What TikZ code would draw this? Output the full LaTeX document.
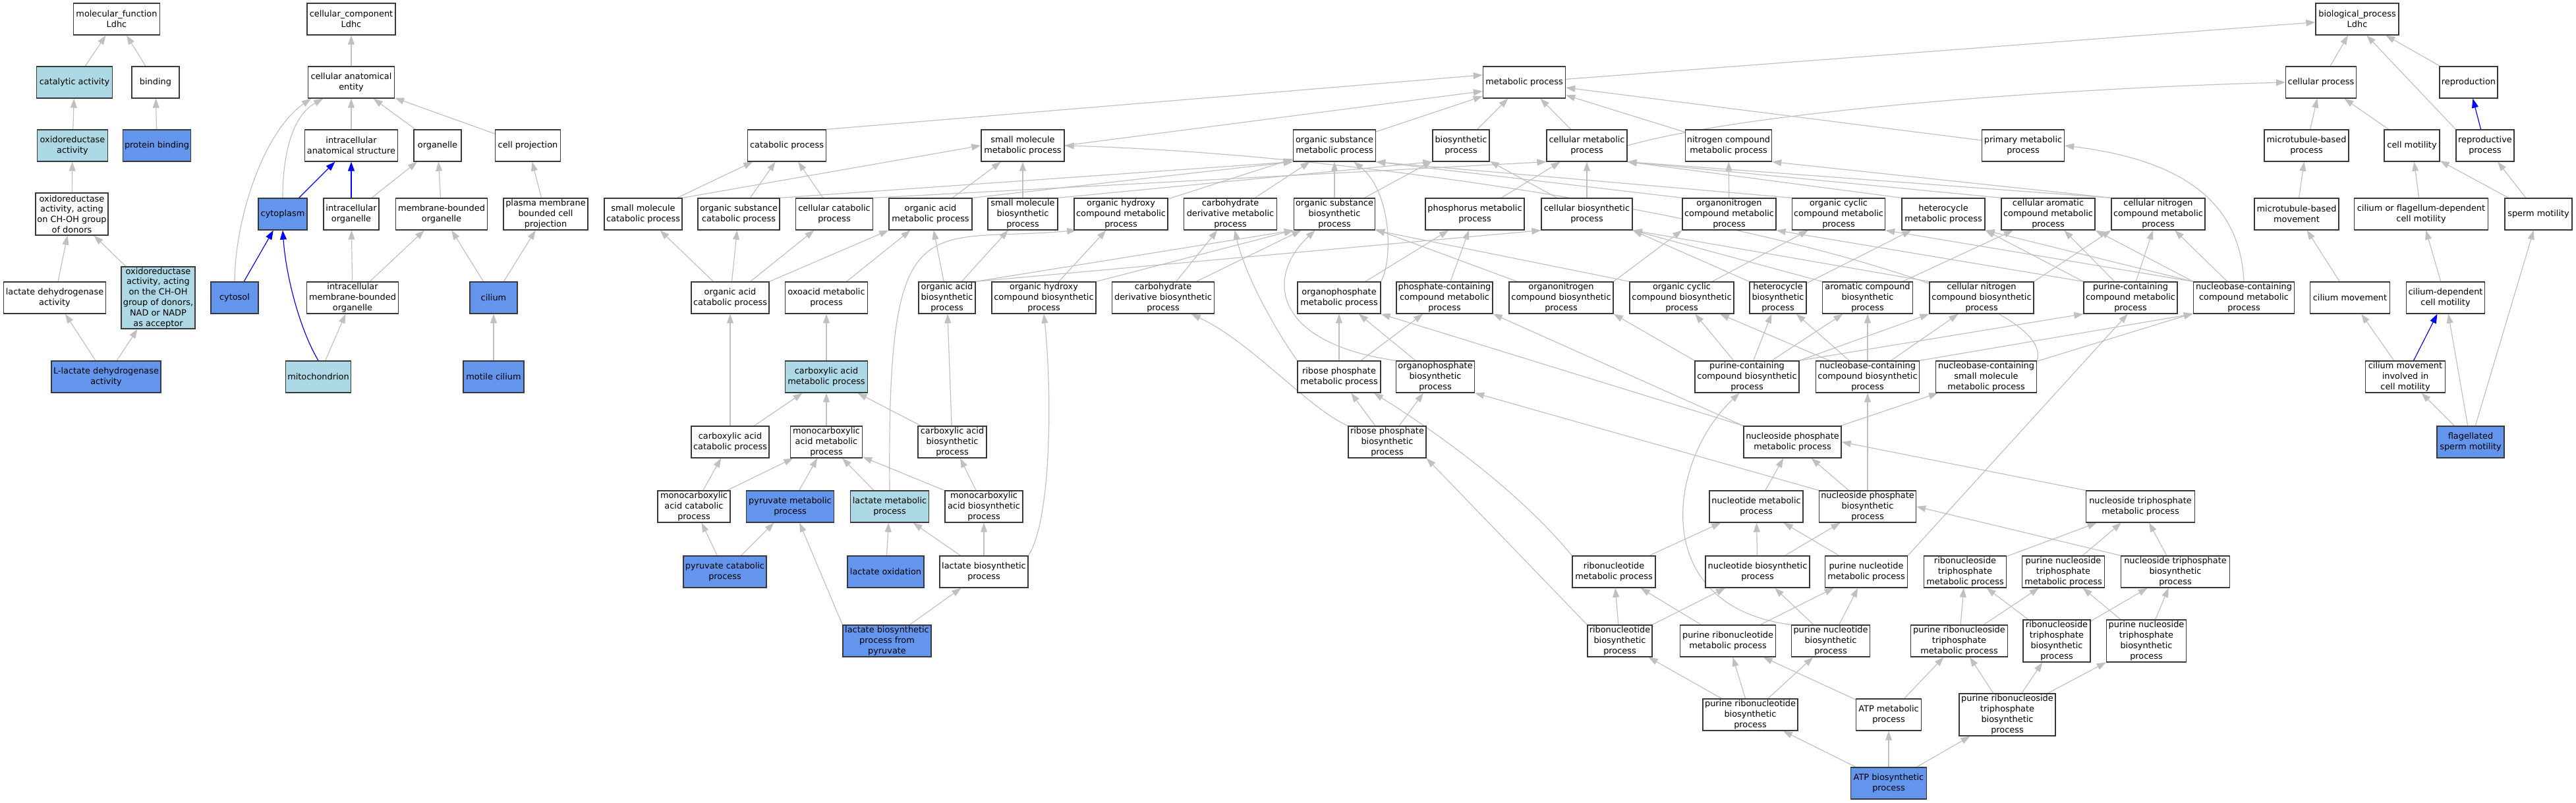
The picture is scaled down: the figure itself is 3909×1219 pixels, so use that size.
\documentclass[tikz,border=0pt]{standalone}
\usepackage{fontspec}
\setmainfont{DejaVu Sans}
\usepackage{xcolor}
\usepackage{tikz}
\usetikzlibrary{arrows.meta, backgrounds}
\definecolor{edgegray}{RGB}{192, 192, 192}
\definecolor{termline}{RGB}{56, 56, 56}
\definecolor{directblue}{RGB}{100, 149, 237}
\definecolor{lightterm}{RGB}{173, 216, 230}
\definecolor{partblue}{RGB}{0, 0, 255}
\newcommand{\gofont}{\fontsize{11}{13.5}\selectfont}
\tikzstyle{term} = [rectangle, draw=termline, line width=1.1pt, fill=white, align=center, inner sep=1pt, minimum height=1.44cm, font=\gofont]
\tikzstyle{termlight} = [term, fill=lightterm]
\tikzstyle{termdirect} = [term, fill=directblue]
\tikzstyle{isa} = [line width=1pt, draw=edgegray, -{Triangle[length=12pt, width=8.5pt]}]
\tikzstyle{partof} = [isa, draw=partblue]
\tikzset{bx/.style={minimum width=#1*0.3mm}, tall/.style={minimum height=#1*0.3mm}}

\begin{document}
\begin{tikzpicture}[x=0.3mm, y=-0.3mm]
\useasboundingbox (0,0) rectangle (3909,1219);

% Molecular function
\node[term, bx=131] (mf) at (177,29) {molecular\_function\\Ldhc};
\node[termlight, bx=115] (catact) at (113,125) {catalytic activity};
\node[term, bx=72] (binding) at (236,125) {binding};
\node[termlight, bx=107] (oxred) at (110,221) {oxidoreductase\\activity};
\node[termdirect, bx=103] (protbind) at (238,221) {protein binding};
\node[term, bx=110, tall=64] (oxredch) at (109,325) {oxidoreductase\\activity, acting\\on CH-OH group\\of donors};
\node[term, bx=155] (ldhact) at (83,452) {lactate dehydrogenase\\activity};
\node[termlight, bx=112, tall=93] (oxrednad) at (240,452) {oxidoreductase\\activity, acting\\on the CH-OH\\group of donors,\\NAD or NADP\\as acceptor};
\node[termdirect, bx=166] (lldh) at (161,572) {L-lactate dehydrogenase\\activity};

% Cellular component
\node[term, bx=134] (cc) at (533,29) {cellular\_component\\Ldhc};
\node[term, bx=131] (cae) at (533,125) {cellular anatomical\\entity};
\node[term, bx=141] (ias) at (533,221) {intracellular\\anatomical structure};
\node[term, bx=72] (organelle) at (664,221) {organelle};
\node[term, bx=99] (cellproj) at (801,221) {cell projection};
\node[termdirect, bx=74] (cytoplasm) at (429,325) {cytoplasm};
\node[term, bx=84] (icorg) at (533,325) {intracellular\\organelle};
\node[term, bx=139] (mborg) at (670,325) {membrane-bounded\\organelle};
\node[term, bx=128] (pmcellproj) at (828,325) {plasma membrane\\bounded cell\\projection};
\node[termdirect, bx=72] (cytosol) at (356,452) {cytosol};
\node[term, bx=139] (imborg) at (535,452) {intracellular\\membrane-bounded\\organelle};
\node[termdirect, bx=72] (cilium) at (749,452) {cilium};
\node[termlight, bx=99] (mito) at (483,572) {mitochondrion};
\node[termdirect, bx=92] (motcil) at (749,572) {motile cilium};

% Biological process
\node[term, bx=126] (bp) at (3577,29) {biological\_process\\Ldhc};
\node[term, bx=107] (cellproc) at (3522,125) {cellular process};
\node[term, bx=88] (repro) at (3746,125) {reproduction};
\node[term, bx=128] (mtbp) at (3500,221) {microtubule-based\\process};
\node[term, bx=84] (cellmot) at (3660,221) {cell motility};
\node[term, bx=88] (reproproc) at (3771,221) {reproductive\\process};
\node[term, bx=128] (mtbm) at (3485,325) {microtubule-based\\movement};
\node[term, bx=203] (cfdcm) at (3674,325) {cilium or flagellum-dependent\\cell motility};
\node[term, bx=102] (spermmot) at (3852,325) {sperm motility};
\node[term, bx=121] (cilmov) at (3566,452) {cilium movement};
\node[term, bx=119] (cdcm) at (3711,452) {cilium-dependent\\cell motility};
\node[term, bx=121] (cmicm) at (3650,572) {cilium movement\\involved in\\cell motility};
\node[termdirect, bx=102] (flagsperm) at (3749,671) {flagellated\\sperm motility};

% Metabolic process, rank by rank
\node[term, bx=125] (metab) at (2313,125) {metabolic process};

\node[term, bx=119] (catab) at (1194,221) {catabolic process};
\node[term, bx=126] (smmetab) at (1552,221) {small molecule\\metabolic process};
\node[term, bx=125] (osmetab) at (2025,221) {organic substance\\metabolic process};
\node[term, bx=86] (biosyn) at (2217,221) {biosynthetic\\process};
\node[term, bx=122] (cellmetab) at (2408,221) {cellular metabolic\\process};
\node[term, bx=131] (nmetab) at (2623,221) {nitrogen compound\\metabolic process};
\node[term, bx=125] (primetab) at (3070,221) {primary metabolic\\process};

\node[term, bx=118] (smcatab) at (976,325) {small molecule\\catabolic process};
\node[term, bx=124] (oscatab) at (1121,325) {organic substance\\catabolic process};
\node[term, bx=117] (cellcatab) at (1266,325) {cellular catabolic\\process};
\node[term, bx=126] (oametab) at (1412,325) {organic acid\\metabolic process};
\node[term, bx=106] (smbiosyn) at (1552,325) {small molecule\\biosynthetic\\process};
\node[term, bx=142] (ohcmetab) at (1701,325) {organic hydroxy\\compound metabolic\\process};
\node[term, bx=141] (cdmetab) at (1867,325) {carbohydrate\\derivative metabolic\\process};
\node[term, bx=123] (osbiosyn) at (2025,325) {organic substance\\biosynthetic\\process};
\node[term, bx=150] (phosmetab) at (2238,325) {phosphorus metabolic\\process};
\node[term, bx=138] (cellbiosyn) at (2408,325) {cellular biosynthetic\\process};
\node[term, bx=142] (onmetab) at (2624,325) {organonitrogen\\compound metabolic\\process};
\node[term, bx=141] (occmetab) at (2790,325) {organic cyclic\\compound metabolic\\process};
\node[term, bx=126] (hetmetab) at (2949,325) {heterocycle\\metabolic process};
\node[term, bx=142] (camet) at (3108,325) {cellular aromatic\\compound metabolic\\process};
\node[term, bx=142] (cnmetab) at (3275,325) {cellular nitrogen\\compound metabolic\\process};

\node[term, bx=118] (oacatab) at (1108,452) {organic acid\\catabolic process};
\node[term, bx=125] (oxoacid) at (1254,452) {oxoacid metabolic\\process};
\node[term, bx=86] (oabiosyn) at (1437,452) {organic acid\\biosynthetic\\process};
\node[term, bx=158] (ohcbiosyn) at (1584,452) {organic hydroxy\\compound biosynthetic\\process};
\node[term, bx=155] (cdbiosyn) at (1765,452) {carbohydrate\\derivative biosynthetic\\process};
\node[term, bx=126] (opmetab) at (2032,452) {organophosphate\\metabolic process};
\node[term, bx=146] (pcmetab) at (2192,452) {phosphate-containing\\compound metabolic\\process};
\node[term, bx=158] (onbiosyn) at (2369,452) {organonitrogen\\compound biosynthetic\\process};
\node[term, bx=158] (occbiosyn) at (2552,452) {organic cyclic\\compound biosynthetic\\process};
\node[term, bx=86] (hetbiosyn) at (2698,452) {heterocycle\\biosynthetic\\process};
\node[term, bx=137] (acbiosyn) at (2834,452) {aromatic compound\\biosynthetic\\process};
\node[term, bx=158] (cnbiosyn) at (3007,452) {cellular nitrogen\\compound biosynthetic\\process};
\node[term, bx=142] (pcompmetab) at (3233,452) {purine-containing\\compound metabolic\\process};
\node[term, bx=153] (nbcmetab) at (3405,452) {nucleobase-containing\\compound metabolic\\process};

\node[termlight, bx=125] (cametab) at (1254,572) {carboxylic acid\\metabolic process};
\node[term, bx=126] (rpmetab) at (2032,572) {ribose phosphate\\metabolic process};
\node[term, bx=119] (opbiosyn) at (2178,572) {organophosphate\\biosynthetic\\process};
\node[term, bx=158] (pcbiosyn) at (2651,572) {purine-containing\\compound biosynthetic\\process};
\node[term, bx=157] (nbcbiosyn) at (2834,572) {nucleobase-containing\\compound biosynthetic\\process};
\node[term, bx=153] (nbsmmetab) at (3014,572) {nucleobase-containing\\small molecule\\metabolic process};

\node[term, bx=118] (cacatab) at (1108,671) {carboxylic acid\\catabolic process};
\node[term, bx=109] (mcametab) at (1254,671) {monocarboxylic\\acid metabolic\\process};
\node[term, bx=104] (cabiosyn) at (1445,671) {carboxylic acid\\biosynthetic\\process};
\node[term, bx=118] (rpbiosyn) at (2105,671) {ribose phosphate\\biosynthetic\\process};
\node[term, bx=148] (npmetab) at (2720,671) {nucleoside phosphate\\metabolic process};

\node[term, bx=110] (mcacatab) at (1053,769) {monocarboxylic\\acid catabolic\\process};
\node[termdirect, bx=133] (pyrmetab) at (1199,769) {pyruvate metabolic\\process};
\node[termlight, bx=119] (lacmetab) at (1350,769) {lactate metabolic\\process};
\node[term, bx=118] (mcabiosyn) at (1493,769) {monocarboxylic\\acid biosynthetic\\process};
\node[term, bx=142] (ntmetab) at (2665,769) {nucleotide metabolic\\process};
\node[term, bx=147] (npbiosyn) at (2834,769) {nucleoside phosphate\\biosynthetic\\process};
\node[term, bx=165] (ntpmetab) at (3248,769) {nucleoside triphosphate\\metabolic process};

\node[termdirect, bx=126] (pyrcatab) at (1100,868) {pyruvate catabolic\\process};
\node[termdirect, bx=116] (lacox) at (1344,868) {lactate oxidation};
\node[term, bx=134] (lacbiosyn) at (1493,868) {lactate biosynthetic\\process};
\node[term, bx=126] (rnmetab) at (2449,868) {ribonucleotide\\metabolic process};
\node[term, bx=158] (ntbiosyn) at (2667,868) {nucleotide biosynthetic\\process};
\node[term, bx=125] (pnmetab) at (2832,868) {purine nucleotide\\metabolic process};
\node[term, bx=125] (rntpmetab) at (2982,868) {ribonucleoside\\triphosphate\\metabolic process};
\node[term, bx=125] (pntpmetab) at (3131,868) {purine nucleoside\\triphosphate\\metabolic process};
\node[term, bx=165] (ntpbiosyn) at (3301,868) {nucleoside triphosphate\\biosynthetic\\process};

\node[termdirect, bx=134] (lbfp) at (1346,973) {lactate biosynthetic\\process from\\pyruvate};
\node[term, bx=98] (rnbiosyn) at (2458,973) {ribonucleotide\\biosynthetic\\process};
\node[term, bx=145] (prnmetab) at (2622,973) {purine ribonucleotide\\metabolic process};
\node[term, bx=119] (pnbiosyn) at (2778,973) {purine nucleotide\\biosynthetic\\process};
\node[term, bx=147] (prntpmetab) at (2973,973) {purine ribonucleoside\\triphosphate\\metabolic process};
\node[term, bx=102, tall=64] (rntpbiosyn) at (3121,973) {ribonucleoside\\triphosphate\\biosynthetic\\process};
\node[term, bx=121, tall=64] (pntpbiosyn) at (3257,973) {purine nucleoside\\triphosphate\\biosynthetic\\process};

\node[term, bx=144] (prnbiosyn) at (2656,1085) {purine ribonucleotide\\biosynthetic\\process};
\node[term, bx=99] (atpmetab) at (2866,1085) {ATP metabolic\\process};
\node[term, bx=146, tall=64] (prntpbiosyn) at (3046,1085) {purine ribonucleoside\\triphosphate\\biosynthetic\\process};

\node[termdirect, bx=115] (atpbiosyn) at (2866,1189) {ATP biosynthetic\\process};

% Edges (child to parent)
\begin{scope}[on background layer]
\fill[white] (0,0) rectangle (3909,1219);

\draw[isa] (catact) -- (mf);
\draw[isa] (binding) -- (mf);
\draw[isa] (oxred) -- (catact);
\draw[isa] (protbind) -- (binding);
\draw[isa] (oxredch) -- (oxred);
\draw[isa] (ldhact) -- (oxredch);
\draw[isa] (oxrednad) -- (oxredch);
\draw[isa] (lldh) -- (ldhact);
\draw[isa] (lldh) -- (oxrednad);

\draw[isa] (cae) -- (cc);
\draw[isa] (ias) -- (cae);
\draw[isa] (organelle) -- (cae);
\draw[isa] (cellproj) -- (cae);
\draw[isa] (cytoplasm.north) .. controls (429,230) and (445,175) .. (cae.-150);
\draw[isa] (cytosol.north) .. controls (357,330) and (400,200) .. (cae.-158);
\draw[partof] (cytoplasm) -- (ias);
\draw[partof] (icorg) -- (ias);
\draw[isa] (icorg) -- (organelle);
\draw[isa] (mborg) -- (organelle);
\draw[isa] (pmcellproj) -- (cellproj);
\draw[partof] (cytosol) -- (cytoplasm);
\draw[partof] (mito.north) .. controls (455,500) and (434,420) .. (cytoplasm.south);
\draw[isa] (imborg) -- (icorg);
\draw[isa] (imborg) -- (mborg);
\draw[isa] (mito) -- (imborg);
\draw[isa] (cilium) -- (mborg);
\draw[isa] (cilium) -- (pmcellproj);
\draw[isa] (motcil) -- (cilium);

\draw[isa] (metab) -- (bp);
\draw[isa] (cellproc) -- (bp);
\draw[isa] (repro) -- (bp);
\draw[isa] (reproproc.north west) -- (bp.-60);
\draw[partof] (reproproc) -- (repro);
\draw[isa] (mtbp) -- (cellproc);
\draw[isa] (cellmot) -- (cellproc);
\draw[isa] (cellmetab.east) .. controls (2650,170) and (3100,135) .. (cellproc.west);
\draw[isa] (mtbm) -- (mtbp);
\draw[isa] (cfdcm) -- (cellmot);
\draw[isa] (spermmot) -- (cellmot);
\draw[isa] (spermmot) -- (reproproc);
\draw[isa] (cilmov) -- (mtbm);
\draw[isa] (cdcm) -- (cfdcm);
\draw[isa] (cmicm) -- (cilmov);
\draw[partof] (cmicm) -- (cdcm);
\draw[isa] (flagsperm) -- (cmicm);
\draw[isa] (flagsperm) -- (cdcm);
\draw[isa] (flagsperm) -- (spermmot);

\draw[isa] (catab.north east) -- (metab.170);
\draw[isa] (smmetab.east) -- (metab.192);
\draw[isa] (osmetab) -- (metab);
\draw[isa] (biosyn) -- (metab);
\draw[isa] (cellmetab) -- (metab);
\draw[isa] (nmetab) -- (metab);
\draw[isa] (primetab) -- (metab);

\draw[isa] (smcatab) -- (catab);
\draw[isa] (smcatab.north east) -- (smmetab.west);
\draw[isa] (oscatab) -- (catab);
\draw[isa] (oscatab.north east) -- (osmetab.south west);
\draw[isa] (cellcatab) -- (catab);
\draw[isa] (cellcatab.north east) -- (cellmetab.south west);
\draw[isa] (oametab) -- (smmetab);
\draw[isa] (oametab.north east) -- (osmetab.south west);
\draw[isa] (smbiosyn) -- (smmetab);
\draw[isa] (smbiosyn.north east) -- (biosyn.south west);
\draw[isa] (ohcmetab) -- (osmetab);
\draw[isa] (cdmetab) -- (osmetab);
\draw[isa] (osbiosyn) -- (osmetab);
\draw[isa] (osbiosyn) -- (biosyn);
\draw[isa] (phosmetab) -- (cellmetab);
\draw[isa] (cellbiosyn) -- (cellmetab);
\draw[isa] (cellbiosyn) -- (biosyn);
\draw[isa] (onmetab) -- (nmetab);
\draw[isa] (onmetab.north west) -- (osmetab.south east);
\draw[isa] (occmetab.north west) -- (osmetab.south east);
\draw[isa] (hetmetab.north west) -- (cellmetab.south east);
\draw[isa] (camet.north west) -- (cellmetab.south east);
\draw[isa] (cnmetab.north west) -- (cellmetab.south east);
\draw[isa] (cnmetab.north west) -- (nmetab.south east);

\draw[isa] (oacatab) -- (smcatab);
\draw[isa] (oacatab) -- (oscatab);
\draw[isa] (oacatab) -- (cellcatab);
\draw[isa] (oacatab.north east) -- (oametab.south west);
\draw[isa] (oxoacid) -- (oametab);
\draw[isa] (oabiosyn) -- (oametab);
\draw[isa] (oabiosyn) -- (smbiosyn);
\draw[isa] (oabiosyn.north east) -- (osbiosyn.south west);
\draw[isa] (oabiosyn.north east) -- (cellbiosyn.south west);
\draw[isa] (ohcbiosyn) -- (ohcmetab);
\draw[isa] (ohcbiosyn.north east) -- (osbiosyn.south west);
\draw[isa] (cdbiosyn) -- (cdmetab);
\draw[isa] (cdbiosyn) -- (osbiosyn);
\draw[isa] (opmetab) -- (phosmetab);
\draw[isa] (opmetab.north east) .. controls (2115,390) and (2110,290) .. (osmetab.-40);
\draw[isa] (pcmetab) -- (phosmetab);
\draw[isa] (onbiosyn.north east) -- (onmetab.south west);
\draw[isa] (onbiosyn) -- (osbiosyn);
\draw[isa] (occbiosyn) -- (occmetab);
\draw[isa] (occbiosyn.north west) -- (osbiosyn.south east);
\draw[isa] (hetbiosyn) -- (hetmetab);
\draw[isa] (hetbiosyn.north west) -- (cellbiosyn.south east);
\draw[isa] (acbiosyn) -- (camet);
\draw[isa] (acbiosyn.north west) -- (cellbiosyn.south east);
\draw[isa] (cnbiosyn.north east) -- (cnmetab.south west);
\draw[isa] (cnbiosyn.north west) -- (cellbiosyn.south east);
\draw[isa] (pcompmetab) -- (cnmetab);
\draw[isa] (pcompmetab.north west) -- (hetmetab.south east);
\draw[isa] (pcompmetab) -- (camet);
\draw[isa] (pcompmetab.north west) -- (onmetab.south east);
\draw[isa] (nbcmetab) -- (cnmetab);
\draw[isa] (nbcmetab.north west) -- (camet.south east);
\draw[isa] (nbcmetab.north west) -- (hetmetab.south east);
\draw[isa] (nbcmetab.north west) -- (occmetab.south east);
\draw[isa] (nbcmetab.north) .. controls (3400,320) and (3330,245) .. (primetab.east);

\draw[isa] (cametab) -- (oxoacid);
\draw[isa] (rpmetab) -- (opmetab);
\draw[isa] (rpmetab) -- (pcmetab);
\draw[isa] (rpmetab.north west) .. controls (1935,500) and (1890,420) .. (cdmetab.-75);
\draw[isa] (opbiosyn) -- (opmetab);
\draw[isa] (opbiosyn.north west) .. controls (1930,520) and (1920,420) .. (osbiosyn.-140);
\draw[isa] (pcbiosyn) -- (occbiosyn);
\draw[isa] (pcbiosyn) -- (hetbiosyn);
\draw[isa] (pcbiosyn) -- (acbiosyn);
\draw[isa] (pcbiosyn.north east) -- (cnbiosyn.south west);
\draw[isa] (pcbiosyn.north east) -- (pcompmetab.south west);
\draw[isa] (pcbiosyn.north west) -- (onbiosyn.south east);
\draw[isa] (nbcbiosyn) -- (occbiosyn);
\draw[isa] (nbcbiosyn) -- (hetbiosyn);
\draw[isa] (nbcbiosyn) -- (acbiosyn);
\draw[isa] (nbcbiosyn) -- (cnbiosyn);
\draw[isa] (nbcbiosyn.north east) -- (nbcmetab.south west);
\draw[isa] (nbsmmetab) -- (nbcmetab);
\draw[isa] (nbsmmetab.north east) .. controls (3130,420) and (2250,240) .. (smmetab.east);

\draw[isa] (cacatab) -- (cametab);
\draw[isa] (cacatab) -- (oacatab);
\draw[isa] (mcametab) -- (cametab);
\draw[isa] (cabiosyn) -- (cametab);
\draw[isa] (cabiosyn) -- (oabiosyn);
\draw[isa] (rpbiosyn) -- (rpmetab);
\draw[isa] (rpbiosyn) -- (opbiosyn);
\draw[isa] (rpbiosyn.north west) .. controls (1985,620) and (1900,520) .. (cdbiosyn.-30);
\draw[isa] (npmetab.north west) -- (opmetab.south east);
\draw[isa] (npmetab.north west) -- (pcmetab.south east);
\draw[isa] (npmetab) -- (nbsmmetab);

\draw[isa] (mcacatab) -- (cacatab);
\draw[isa] (mcacatab) -- (mcametab);
\draw[isa] (pyrmetab) -- (mcametab);
\draw[isa] (lacmetab) -- (mcametab);
\draw[isa] (lacmetab.north) .. controls (1346,300) and (1400,370) .. (ohcmetab.-160);
\draw[isa] (mcabiosyn) -- (mcametab);
\draw[isa] (mcabiosyn) -- (cabiosyn);
\draw[isa] (ntmetab) -- (npmetab);
\draw[isa] (npbiosyn) -- (npmetab);
\draw[isa] (npbiosyn.north) -- (nbcbiosyn.south);
\draw[isa] (npbiosyn.north west) -- (opbiosyn.south east);
\draw[isa] (ntpmetab.north west) -- (npmetab.east);

\draw[isa] (pyrcatab) -- (mcacatab);
\draw[isa] (pyrcatab) -- (pyrmetab);
\draw[isa] (lacox) -- (lacmetab);
\draw[isa] (lacbiosyn) -- (lacmetab);
\draw[isa] (lacbiosyn) -- (mcabiosyn);
\draw[isa] (lacbiosyn.north east) .. controls (1595,790) and (1597,600) .. (ohcbiosyn.south);
\draw[isa] (rnmetab.north west) .. controls (2300,740) and (2170,650) .. (rpmetab.-25);
\draw[isa] (rnmetab) -- (ntmetab);
\draw[isa] (ntbiosyn) -- (ntmetab);
\draw[isa] (ntbiosyn) -- (npbiosyn);
\draw[isa] (pnmetab) -- (ntmetab);
\draw[isa] (pnmetab.north east) -- (pcompmetab.-100);
\draw[isa] (rntpmetab) -- (ntpmetab);
\draw[isa] (pntpmetab) -- (ntpmetab);
\draw[isa] (ntpbiosyn) -- (ntpmetab);
\draw[isa] (ntpbiosyn.north west) -- (npbiosyn.east);

\draw[isa] (lbfp.north west) -- (pyrmetab.-60);
\draw[isa] (lbfp) -- (lacbiosyn);
\draw[isa] (rnbiosyn) -- (rnmetab);
\draw[isa] (rnbiosyn) -- (ntbiosyn);
\draw[isa] (rnbiosyn.north west) -- (rpbiosyn.south east);
\draw[isa] (prnmetab) -- (rnmetab);
\draw[isa] (prnmetab) -- (pnmetab);
\draw[isa] (pnbiosyn) -- (ntbiosyn);
\draw[isa] (pnbiosyn) -- (pnmetab);
\draw[isa] (pnbiosyn.north west) .. controls (2500,920) and (2530,700) .. (pcbiosyn.-115);
\draw[isa] (prntpmetab) -- (rntpmetab);
\draw[isa] (prntpmetab) -- (pntpmetab);
\draw[isa] (rntpbiosyn) -- (rntpmetab);
\draw[isa] (rntpbiosyn) -- (ntpbiosyn);
\draw[isa] (pntpbiosyn) -- (pntpmetab);
\draw[isa] (pntpbiosyn) -- (ntpbiosyn);

\draw[isa] (prnbiosyn) -- (prnmetab);
\draw[isa] (prnbiosyn) -- (pnbiosyn);
\draw[isa] (prnbiosyn) -- (rnbiosyn);
\draw[isa] (atpmetab) -- (prnmetab);
\draw[isa] (atpmetab) -- (prntpmetab);
\draw[isa] (prntpbiosyn) -- (prntpmetab);
\draw[isa] (prntpbiosyn) -- (rntpbiosyn);
\draw[isa] (prntpbiosyn) -- (pntpbiosyn);

\draw[isa] (atpbiosyn) -- (prnbiosyn);
\draw[isa] (atpbiosyn) -- (atpmetab);
\draw[isa] (atpbiosyn) -- (prntpbiosyn);
\end{scope}

\end{tikzpicture}
\end{document}
